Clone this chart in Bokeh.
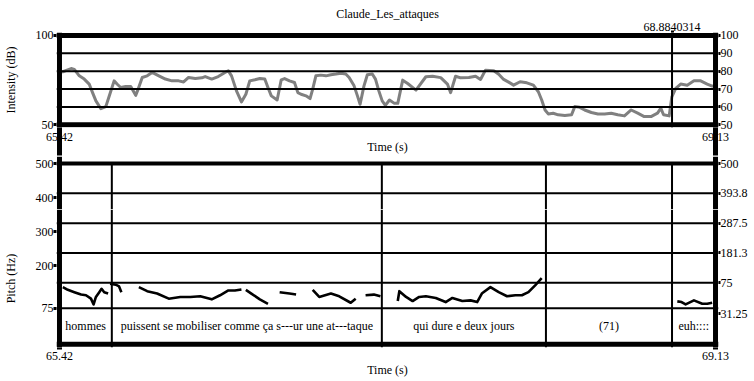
from bokeh.plotting import figure
from bokeh.layouts import column
from bokeh.models import Range1d, LinearAxis, FixedTicker, Span
from bokeh.core.properties import value
from bokeh.embed import file_html
from bokeh.resources import INLINE

FONT = "'Liberation Serif'"
FS = "12px"

# ---------------- data ----------------
title = "Claude_Les_attaques"
t_start, t_end = 65.42, 69.13
cursor = 68.8840314

int_t = [65.420, 65.439, 65.486, 65.504, 65.532, 65.560, 65.588, 65.607, 65.626, 65.654,
         65.682, 65.701, 65.729, 65.747, 65.766, 65.794, 65.823, 65.851, 65.865, 65.888,
         65.916, 65.944, 65.982, 66.019, 66.056, 66.094, 66.122, 66.150, 66.188, 66.225,
         66.244, 66.281, 66.318, 66.356, 66.375, 66.393, 66.421, 66.449, 66.474, 66.496,
         66.525, 66.553, 66.581, 66.599, 66.618, 66.651, 66.674, 66.693, 66.721, 66.749,
         66.768, 66.786, 66.814, 66.837, 66.852, 66.870, 66.898, 66.927, 66.955, 66.983,
         67.011, 67.039, 67.058, 67.086, 67.105, 67.120, 67.142, 67.161, 67.189, 67.207,
         67.226, 67.245, 67.263, 67.286, 67.314, 67.333, 67.361, 67.389, 67.436, 67.492,
         67.530, 67.576, 67.614, 67.632, 67.660, 67.688, 67.735, 67.773, 67.801, 67.829,
         67.876, 67.904, 67.932, 67.960, 67.988, 68.025, 68.063, 68.100, 68.128, 68.147,
         68.166, 68.184, 68.212, 68.240, 68.278, 68.316, 68.334, 68.362, 68.390, 68.428,
         68.465, 68.503, 68.540, 68.577, 68.615, 68.653, 68.690, 68.727, 68.765, 68.802,
         68.821, 68.836, 68.868, 68.883, 68.905, 68.933, 68.970, 69.008, 69.046, 69.083,
         69.111, 69.126]
int_db = [79.5, 79.7, 81.5, 81.0, 77.4, 75.6, 72.8, 68.0, 63.4, 59.0,
          60.2, 66.0, 74.6, 72.7, 70.9, 71.4, 71.4, 66.5, 70.0, 76.5,
          77.4, 79.3, 77.4, 75.6, 74.6, 74.6, 74.0, 76.5, 75.9, 76.3,
          77.0, 75.6, 77.0, 79.3, 80.2, 77.4, 69.0, 62.8, 67.1, 74.6,
          75.2, 75.9, 75.6, 70.9, 66.2, 63.9, 75.2, 75.9, 74.6, 73.7,
          68.0, 67.1, 66.2, 64.7, 70.0, 77.4, 77.8, 77.4, 78.0, 78.4,
          78.9, 78.4, 76.5, 71.8, 66.2, 61.5, 71.8, 78.0, 78.4, 75.6,
          69.0, 63.4, 60.9, 63.9, 62.0, 62.0, 75.0, 73.1, 69.4, 76.9,
          77.2, 76.4, 72.8, 68.0, 77.2, 76.3, 76.5, 77.2, 75.4, 80.6,
          80.2, 78.3, 75.4, 73.9, 72.2, 74.1, 73.5, 72.2, 68.5, 63.9,
          58.3, 56.1, 56.5, 55.6, 55.2, 55.6, 60.2, 59.8, 58.3, 56.9,
          56.1, 56.1, 56.5, 55.6, 55.0, 58.3, 56.5, 54.6, 54.6, 56.5,
          59.3, 55.6, 55.0, 65.7, 70.4, 72.8, 72.2, 74.6, 74.6, 72.8,
          71.7, 71.5]

pitch_seg_t = [
    [65.439, 65.467, 65.504, 65.542, 65.570, 65.598, 65.613, 65.626, 65.645, 65.658, 65.673, 65.695],
    [65.706, 65.738, 65.757, 65.770],
    [65.869, 65.916, 65.972, 66.038, 66.103, 66.160, 66.216, 66.281, 66.328, 66.375, 66.412, 66.449],
    [66.474, 66.505, 66.553, 66.599],
    [66.665, 66.721, 66.758],
    [66.852, 66.889, 66.955, 67.002, 67.067, 67.095],
    [67.151, 67.198, 67.235],
    [67.333, 67.342, 67.380, 67.417, 67.454, 67.492, 67.548, 67.604, 67.642, 67.698, 67.745,
     67.782, 67.810, 67.857, 67.904, 67.951, 67.998, 68.035, 68.072, 68.110, 68.147],
    [68.914, 68.938, 68.961, 69.008, 69.055, 69.083, 69.111],
]
pitch_seg_hz = [
    [137, 129, 122, 115, 113, 103, 86, 108, 122, 132, 122, 118],
    [147, 144, 139, 122],
    [137, 125, 118, 103, 108, 108, 110, 101, 113, 127, 127, 130],
    [129, 118, 101, 88],
    [122, 118, 115],
    [129, 108, 118, 110, 91, 103],
    [113, 115, 110],
    [96, 125, 108, 96, 108, 110, 105, 93, 105, 96, 98, 93, 119, 137, 122, 110, 113, 113, 122, 142, 163],
    [95, 93, 86, 98, 88, 88, 91],
]

tier_bounds = [65.42, 65.716, 67.243, 68.171, 68.884, 69.13]
tier_labels = ["hommes", "puissent se mobiliser comme ça s---ur une at---taque",
               "qui dure e deux jours", "(71)", "euh::::"]

int_left_ticks = [50, 100]
int_right_ticks = [100, 90, 80, 70, 60, 50]
int_grid = [60, 70, 80, 90]
pitch_left_ticks = [75, 200, 300, 400, 500]
pitch_right_ticks = [500, 393.75, 287.5, 181.25, 75, -35.4]
pitch_right_labels = ["500", "393.8", "287.5", "181.3", "75", "31.25"]
pitch_grid = [393.75, 287.5, 181.25, 75]


# ---------------- helpers ----------------
def style_axis(ax, ticks, labels, tick_out, tick_w, standoff, label="", label_standoff=0):
    ax.ticker = FixedTicker(ticks=list(ticks), minor_ticks=[])
    ax.major_label_overrides = {float(t): l for t, l in zip(ticks, labels)}
    ax.axis_line_color = None
    ax.major_tick_line_color = "black"
    ax.major_tick_line_width = tick_w
    ax.major_tick_line_cap = "butt"
    ax.major_tick_out = tick_out
    ax.major_tick_in = 0
    ax.minor_tick_line_color = None
    ax.major_label_standoff = standoff
    ax.major_label_text_font = FONT
    ax.major_label_text_font_size = FS
    ax.major_label_text_color = "black"
    ax.axis_label = label
    ax.axis_label_standoff = label_standoff
    ax.axis_label_text_font = FONT
    ax.axis_label_text_font_size = FS
    ax.axis_label_text_font_style = "normal"
    ax.axis_label_text_color = "black"


def base_fig(y_range, height, mb_top, mb_bottom, x_axis=True):
    p = figure(x_range=x_range, y_range=y_range, width=754, height=height,
               output_backend="svg", toolbar_location=None,
               x_axis_location="below" if x_axis else None,
               min_border_left=52, min_border_right=36,
               min_border_top=mb_top, min_border_bottom=mb_bottom)
    p.outline_line_color = None
    p.background_fill_color = "white"
    p.border_fill_color = "white"
    p.xgrid.visible = False
    p.ygrid.visible = False
    return p


def in_range(ticks, labels, rng):
    lo, hi = min(rng.start, rng.end), max(rng.start, rng.end)
    pairs = [(t, l) for t, l in zip(ticks, labels) if lo <= t <= hi]
    return [t for t, _ in pairs], [l for _, l in pairs]


x_pad = 3 / 177.9
x_range = Range1d(t_start - x_pad, t_end + x_pad)

# ---------------- intensity panel ----------------
p1 = base_fig(Range1d(int_left_ticks[0] - 1.5, int_left_ticks[-1] + 1.66), 156, 32, 28)
p1.add_layout(LinearAxis(), "right")
p1.add_layout(LinearAxis(), "above")

p1.line(int_t, int_db, line_color="#808080", line_width=3, line_join="round")

for g in int_grid:
    p1.add_layout(Span(location=g, dimension="width", line_color="black", line_width=2))
for g in int_left_ticks:
    p1.add_layout(Span(location=g, dimension="width", line_color="black", line_width=5))
for tb in (t_start, t_end):
    p1.add_layout(Span(location=tb, dimension="height", line_color="black", line_width=5))
p1.add_layout(Span(location=cursor, dimension="height", line_color="black", line_width=2))

style_axis(p1.left[0], int_left_ticks, [str(v) for v in int_left_ticks], 3, 3, 0,
           "Intensity (dB)", 15)
style_axis(p1.right[0], int_right_ticks, [str(v) for v in int_right_ticks], 2, 3, 0)
style_axis(p1.below[0], [t_start, t_end], ["65.42", "69.13"], 28, 5, -23, "Time (s)", -4)
style_axis(p1.above[0], [cursor], ["68.8840314"], 2, 3, 0, title, -1)


# ---------------- pitch + tier panel (two stacked strips) ----------------
def pitch_strip(height, mb_bottom, left_rng, right_rng, tier_rng, lower, caption):
    p = base_fig(left_rng, height, 0, mb_bottom, x_axis=lower)
    p.extra_y_ranges = {"right": right_rng, "tier": tier_rng}
    p.add_layout(LinearAxis(y_range_name="right"), "right")

    for g in pitch_grid:
        p.add_layout(Span(location=g, dimension="width", line_color="black", line_width=2,
                          y_range_name="right"))
    p.add_layout(Span(location=pitch_left_ticks[-1], dimension="width", line_color="black",
                      line_width=4))
    inner = tier_bounds[1:-1]
    top = min(pitch_left_ticks[-1], left_rng.end)
    p.segment(x0=inner, x1=inner, y0=[top] * len(inner), y1=[left_rng.start] * len(inner),
              line_color="black", line_width=2)
    for tb in (t_start, t_end):
        p.add_layout(Span(location=tb, dimension="height", line_color="black", line_width=5))

    if lower:
        p.add_layout(Span(location=1, dimension="width", line_color="black", line_width=2,
                          y_range_name="tier"))
        p.add_layout(Span(location=0, dimension="width", line_color="black", line_width=5,
                          y_range_name="tier"))
        p.multi_line(pitch_seg_t, pitch_seg_hz, line_color="black", line_width=2.6,
                     line_join="round")
        mids = [(a + b) / 2 for a, b in zip(tier_bounds[:-1], tier_bounds[1:])]
        p.text(x=mids, y=[0.5] * len(mids), text=tier_labels, y_range_name="tier",
               text_font=value(FONT), text_font_size=FS, text_align="center",
               text_baseline="middle", text_color="black")

    lt, ll = in_range(pitch_left_ticks, [str(v) for v in pitch_left_ticks], left_rng)
    style_axis(p.left[0], lt, ll, 3, 3, 0, caption, 15)
    rt, rl = in_range(pitch_right_ticks, pitch_right_labels, right_rng)
    style_axis(p.right[0], rt, rl, 2, 3, 0)
    if lower:
        style_axis(p.below[0], [t_start, t_end], ["65.42", "69.13"], 2, 5, 2, "Time (s)", 0)
    return p


p2a = pitch_strip(53, 0, Range1d(364.89, 520.56), Range1d(336.13, 524.94),
                  Range1d(3.7417, 5.2139), False, "")
p2b = pitch_strip(172, 34, Range1d(-40.43, 364.89), Range1d(-155.49, 336.13),
                  Range1d(-0.0917, 3.7417), True, "Pitch (Hz)")

layout = column(p1, p2a, p2b, spacing=0)
open("out.html", "w").write(file_html(layout, INLINE))
